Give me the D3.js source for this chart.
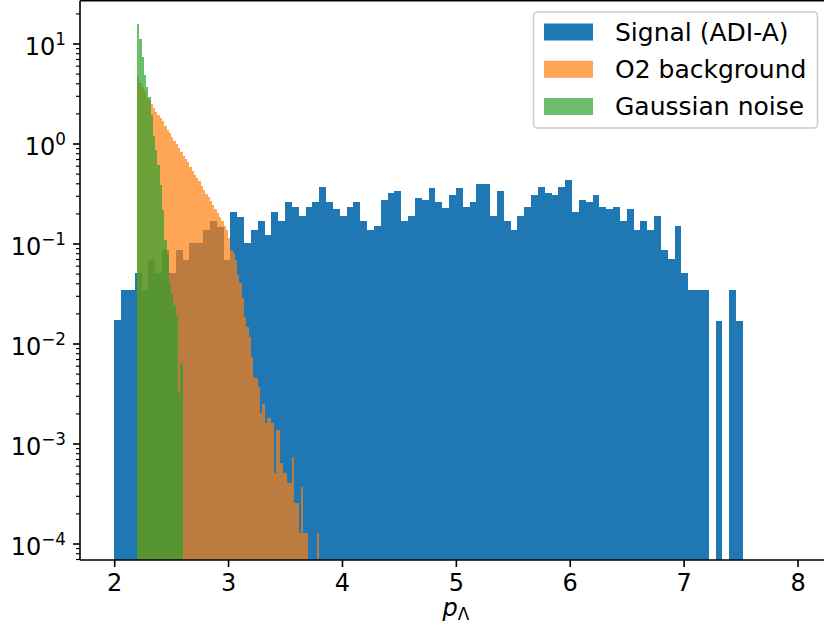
<!DOCTYPE html>
<html>
<head>
<meta charset="utf-8">
<script src="https://cdn.jsdelivr.net/npm/d3@7"></script>
<style>
  body { margin: 0; background: #fff; }
  svg { display: block; }
  text { font-family: "DejaVu Sans", sans-serif; }
</style>
</head>
<body>
<svg id="chart" width="824" height="630"></svg>
<script>
// ---------------- data ----------------
const seriesNames = ["Signal (ADI-A)", "O2 background", "Gaussian noise"];

// Signal (ADI-A): bins of width 0.06 starting at 2.00
const signalStart = 2.0, signalWidth = 0.06;
const signal = [0.0172,0.034,0.034,0.051,0.034,0.068,0.051,0.086,0.051,0.086,
  0.068,0.102,0.102,0.136,0.169,0.147,0.068,0.205,0.186,0.102,
  0.136,0.169,0.122,0.205,0.169,0.258,0.233,0.188,0.233,0.258,
  0.365,0.258,0.221,0.188,0.233,0.258,0.169,0.136,0.150,0.272,
  0.322,0.337,0.169,0.188,0.287,0.272,0.356,0.258,0.225,0.303,
  0.356,0.233,0.258,0.391,0.391,0.188,0.337,0.169,0.136,0.188,
  0.233,0.303,0.365,0.318,0.303,0.365,0.431,0.205,0.272,0.258,
  0.303,0.233,0.221,0.233,0.169,0.221,0.136,0.169,0.136,0.188,
  0.086,0.0695,0.151,0.0504,0.0343,0.0343,0.0343,0,0.0169,0,
  0.0343,0.0169];

// O2 background: bins of width 0.02 starting at 2.20
const o2Start = 2.2, o2Width = 0.02;
const o2 = [4.62,4.03,3.67,3.35,2.85,2.72,2.48,2.26,2.07,1.93,
  1.80,1.68,1.50,1.36,1.27,1.16,1.06,0.99,0.90,0.82,
  0.75,0.70,0.65,0.58,0.53,0.48,0.45,0.42,0.376,0.343,
  0.313,0.292,0.266,0.243,0.221,0.202,0.184,0.168,0.150,0.136,
  0.114,0.086,0.080,0.068,0.048,0.040,0.0285,0.0184,0.0146,0.0116,
  0.0073,0.0046,0.0045,0.0037,0.0020,0.0025,0.0016,0.0018,0.0018,0.0016,
  0.00051,0.00136,0.00136,0.00064,0.00051,0.00051,0.00040,0.00040,0.00073,0.000254,
  0.000254,0.000127,0.000367,0.000127,0.000127,0,0,0,0,0.000127];

// Gaussian noise: bins of width 0.02 starting at 2.20
const gaussStart = 2.2, gaussWidth = 0.02;
const gauss = [15.6,11.0,7.4,4.8,3.65,2.9,1.93,1.2,0.86,0.61,
  0.385,0.216,0.108,0.077,0.040,0.031,0.024,0.019,0.0032,0.0064];

const xTicks = [2, 3, 4, 5, 6, 7, 8];
const yTickExponents = [1, 0, -1, -2, -3, -4];
const xLabel = "p", xLabelSub = "Λ";

// ---------------- layout ----------------
const svg = d3.select("#chart");
const pLeft = 80, pRight = 831.7, pTop = 0.8, pBottom = 560;

const x = d3.scaleLinear().domain([1.7, 8.3]).range([pLeft, pRight]);
const y = d3.scaleLog().domain([Math.pow(10, -4.165), Math.pow(10, 1.435)]).range([pBottom, 0]);

svg.append("defs").append("clipPath").attr("id", "clip")
  .append("rect").attr("x", pLeft).attr("y", 0).attr("width", pRight - pLeft).attr("height", pBottom);

function bins(values, start, width) {
  return values.map((v, i) => ({ x0: start + i * width, x1: start + (i + 1) * width, v }))
               .filter(d => d.v > 0);
}

const series = [
  { name: seriesNames[0], data: bins(signal, signalStart, signalWidth), color: "#1f77b4", opacity: 1 },
  { name: seriesNames[1], data: bins(o2, o2Start, o2Width), color: "#ff7f0e", opacity: 0.7 },
  { name: seriesNames[2], data: bins(gauss, gaussStart, gaussWidth), color: "#2ca02c", opacity: 0.7 }
];

const plotG = svg.append("g").attr("clip-path", "url(#clip)");
series.forEach(s => {
  const g = plotG.append("g").attr("fill", s.color).attr("fill-opacity", s.opacity)
    .attr("shape-rendering", "crispEdges");
  g.selectAll("rect").data(s.data).join("rect")
    .attr("x", d => x(d.x0))
    .attr("width", d => x(d.x1) - x(d.x0))
    .attr("y", d => y(d.v))
    .attr("height", d => pBottom - y(d.v));
});

// ---------------- axes ----------------
const xAxisG = svg.append("g").attr("transform", `translate(0,${pBottom})`)
  .call(d3.axisBottom(x).tickValues(xTicks).tickSize(7).tickPadding(7).tickFormat(d3.format("d")));
xAxisG.select(".domain").remove();
xAxisG.selectAll("line").attr("stroke", "#000").attr("stroke-width", 1.6);
xAxisG.selectAll("text").attr("font-size", 24).attr("font-family", "DejaVu Sans").attr("fill", "#000");

// minor y ticks
const minorTicks = [];
for (let e = -5; e <= 1; e++) for (let m = 2; m <= 9; m++) {
  const v = m * Math.pow(10, e);
  if (v >= y.domain()[0] && v <= y.domain()[1]) minorTicks.push(v);
}
const yMinorG = svg.append("g").attr("transform", `translate(${pLeft},0)`)
  .call(d3.axisLeft(y).tickValues(minorTicks).tickSize(4).tickFormat(""));
yMinorG.select(".domain").remove();
yMinorG.selectAll("line").attr("stroke", "#000").attr("stroke-width", 1.2);

const majorVals = yTickExponents.map(e => Math.pow(10, e));
const yAxisG = svg.append("g").attr("transform", `translate(${pLeft},0)`)
  .call(d3.axisLeft(y).tickValues(majorVals).tickSize(7).tickPadding(7).tickFormat(""));
yAxisG.select(".domain").remove();
yAxisG.selectAll("line").attr("stroke", "#000").attr("stroke-width", 1.6);
yAxisG.selectAll(".tick text").each(function(d) {
  const t = d3.select(this);
  const e = Math.round(Math.log10(d));
  t.attr("dy", null).attr("y", 11).attr("font-size", 24).attr("fill", "#000")
   .attr("font-family", "DejaVu Sans").text(null);
  t.append("tspan").text("10");
  t.append("tspan").attr("dy", -10).attr("font-size", 16.8).text(e < 0 ? "\u2212" + (-e) : String(e));
});

// spines
const spine = svg.append("g").attr("stroke", "#000").attr("stroke-width", 1.6).attr("fill", "none");
spine.append("line").attr("x1", pLeft).attr("x2", pLeft).attr("y1", pTop).attr("y2", pBottom);
spine.append("line").attr("x1", pLeft).attr("x2", pRight).attr("y1", pBottom).attr("y2", pBottom);
spine.append("line").attr("x1", pLeft).attr("x2", pRight).attr("y1", pTop).attr("y2", pTop);
spine.append("line").attr("x1", pRight).attr("x2", pRight).attr("y1", pTop).attr("y2", pBottom);

// x label
const xl = svg.append("text").attr("x", (pLeft + pRight) / 2).attr("y", 616)
  .attr("text-anchor", "middle").attr("font-size", 24).attr("fill", "#000");
xl.append("tspan").attr("font-style", "italic").text(xLabel);
xl.append("tspan").attr("font-size", 16.8).attr("dy", 4).text(xLabelSub);

// ---------------- legend ----------------
const lg = svg.append("g");
lg.append("rect").attr("x", 533.5).attr("y", 12).attr("width", 284).attr("height", 116)
  .attr("rx", 4).attr("fill", "#fff").attr("fill-opacity", 0.8)
  .attr("stroke", "#cccccc").attr("stroke-width", 1.6);
const rowY = [32, 69.3, 106.5];
series.forEach((s, i) => {
  lg.append("rect").attr("x", 544).attr("y", rowY[i] - 8.5).attr("width", 49).attr("height", 17)
    .attr("fill", s.color).attr("fill-opacity", s.opacity);
  lg.append("text").attr("x", 615).attr("y", rowY[i] + 8.5).attr("font-size", 25)
    .attr("fill", "#000").text(s.name);
});
</script>
</body>
</html>
